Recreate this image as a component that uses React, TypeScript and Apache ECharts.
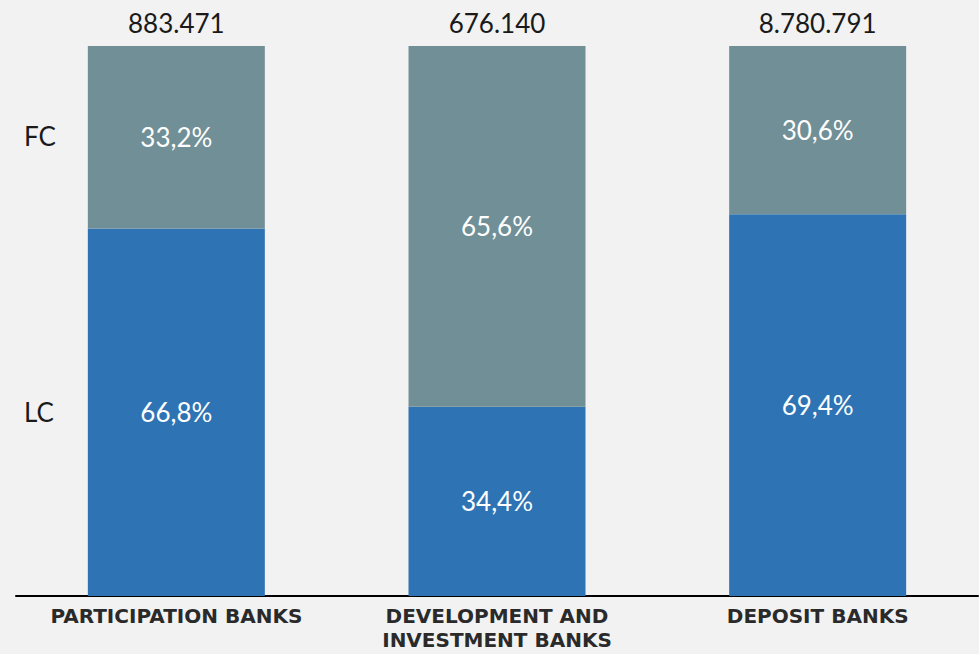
import React, { useEffect, useRef } from "react";
import * as echarts from "echarts";

const categories = ["PARTICIPATION BANKS", "DEVELOPMENT AND\nINVESTMENT BANKS", "DEPOSIT BANKS"];
const lcShare = [66.8, 34.4, 69.4];
const fcShare = [33.2, 65.6, 30.6];
const totals = ["883.471", "676.140", "8.780.791"];
const seriesNames = ["LC", "FC"];

const FONT = "Lato, 'Open Sans', sans-serif";

export default function App() {
  const ref = useRef<HTMLDivElement>(null);
  useEffect(() => {
    if (!ref.current) return;
    const chart = echarts.init(ref.current, null, { renderer: "svg" });
    const pct = (v: number) => v.toFixed(1).replace(".", ",") + "%";
    chart.setOption({
      animation: false,
      backgroundColor: "#f2f2f2",
      grid: { left: 16, right: 1, top: 46, bottom: 58 },
      xAxis: {
        type: "category",
        data: categories,
        axisLine: { show: true, lineStyle: { color: "#000", width: 2 } },
        axisTick: { show: false },
        axisLabel: {
          color: "#2a2a2a",
          fontFamily: "'DejaVu Sans', sans-serif",
          fontWeight: "bold",
          fontSize: 20,
          lineHeight: 24,
          margin: 8,
          interval: 0,
        },
      },
      yAxis: { type: "value", min: 0, max: 100, show: false },
      graphic: [
        { type: "text", left: 24, top: 138 - 15, style: { text: seriesNames[1], fontSize: 26, fontFamily: FONT, fill: "#1a1a1a" } },
        { type: "text", left: 24, top: 414 - 15, style: { text: seriesNames[0], fontSize: 26, fontFamily: FONT, fill: "#1a1a1a" } },
      ],
      series: [
        {
          name: seriesNames[0],
          type: "bar",
          stack: "s",
          barWidth: 177,
          data: lcShare,
          itemStyle: { color: "#2e74b4" },
          label: {
            show: true,
            position: "inside",
            color: "#fff",
            fontSize: 26,
            fontFamily: FONT,
            formatter: (p: any) => pct(p.value),
          },
        },
        {
          name: seriesNames[1],
          type: "bar",
          stack: "s",
          barWidth: 177,
          data: fcShare,
          itemStyle: { color: "#718f96" },
          label: {
            show: true,
            position: "inside",
            color: "#fff",
            fontSize: 26,
            fontFamily: FONT,
            formatter: (p: any) => pct(p.value),
          },
        },
        {
          name: "total",
          type: "bar",
          stack: "s",
          barWidth: 177,
          data: totals.map(() => 0),
          itemStyle: { color: "transparent" },
          label: {
            show: true,
            position: "top",
            distance: 10,
            color: "#1a1a1a",
            fontSize: 26,
            fontFamily: FONT,
            formatter: (p: any) => totals[p.dataIndex],
          },
        },
      ],
    });
    return () => chart.dispose();
  }, []);
  return <div ref={ref} style={{ width: 979, height: 654, position: "absolute", left: 0, top: 0 }} />;
}
